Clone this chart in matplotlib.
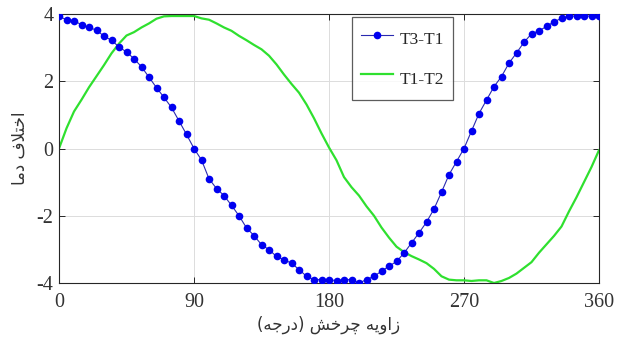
import numpy as np
import matplotlib
matplotlib.use("Agg")
import matplotlib.pyplot as plt

plt.rcParams['axes.unicode_minus'] = False

# ---- data ----
angles = list(range(0, 361, 5))

t3_t1 = [3.93, 3.83, 3.80, 3.68, 3.60, 3.52, 3.34, 3.22, 3.02, 2.87,
         2.67, 2.43, 2.12, 1.81, 1.52, 1.22, 0.82, 0.42, 0.00, -0.34,
         -0.90, -1.19, -1.40, -1.69, -2.00, -2.36, -2.59, -2.86, -3.01, -3.21,
         -3.31, -3.41, -3.60, -3.80, -3.90, -3.90, -3.90, -3.93, -3.90, -3.90,
         -4.00, -3.90, -3.80, -3.65, -3.50, -3.36, -3.11, -2.81, -2.51, -2.19,
         -1.80, -1.30, -0.78, -0.39, 0.00, 0.52, 1.04, 1.44, 1.84, 2.14,
         2.54, 2.84, 3.16, 3.41, 3.50, 3.63, 3.77, 3.87, 3.94, 3.94,
         3.94, 3.94, 3.94]

t1_t2 = [0.00, 0.60, 1.10, 1.45, 1.82, 2.15, 2.48, 2.83, 3.12, 3.36,
         3.46, 3.60, 3.72, 3.86, 3.93, 3.94, 3.94, 3.94, 3.94, 3.87,
         3.83, 3.72, 3.60, 3.50, 3.35, 3.22, 3.08, 2.95, 2.76, 2.50,
         2.20, 1.92, 1.66, 1.31, 0.90, 0.45, 0.03, -0.35, -0.85, -1.15,
         -1.40, -1.72, -2.00, -2.35, -2.65, -2.92, -3.08, -3.20, -3.30, -3.41,
         -3.58, -3.80, -3.90, -3.92, -3.92, -3.94, -3.92, -3.92, -4.00, -3.94,
         -3.85, -3.72, -3.55, -3.38, -3.10, -2.85, -2.60, -2.32, -1.87, -1.45,
         -1.00, -0.55, -0.05]

series_labels = ["T3-T1", "T1-T2"]
xticks = [0, 90, 180, 270, 360]
yticks = [-4, -2, 0, 2, 4]
# Persian labels (presentation forms, visual order)
xlabel_text = "(\uFEEA\uFE9F\uFEAD\uFEA9) \uFEB6\uFEA7\uFEAE\uFB7C \uFEEA\uFBFE\uFEED\uFE8D\uFEAF"   # زاویه چرخش (درجه)
ylabel_text = "\uFE8E\uFEE3\uFEA9 \uFED1\uFEFC\uFE98\uFEA7\uFE8D"   # اختلاف دما

# ---- figure ----
fig = plt.figure(figsize=(6.19, 3.43), dpi=100)
ax = fig.add_axes([59/619, 1-283/343, 540/619, 269/343])

ax.plot(angles, t3_t1, '-o', color='#2a2ab0', lw=0.8, marker='o',
        markersize=5.5, markerfacecolor='#0000f0', markeredgewidth=0,
        label=series_labels[0], zorder=3)
ax.plot(angles, t1_t2, '-', color='#2fe02f', lw=1.6, label=series_labels[1], zorder=2)

ax.set_xlim(0, 360)
ax.set_ylim(-4, 4)
ax.set_xticks(xticks)
ax.set_yticks(yticks)
ax.grid(True, color='#dcdcdc', lw=0.7)
ax.set_axisbelow(True)

tick_font = ['Liberation Serif', 'DejaVu Serif']
ax.tick_params(direction='in', length=4, width=0.7, top=True, right=True,
               colors='#262626', labelsize=14.5)
ax.tick_params(axis='x', pad=7)
ax.tick_params(axis='y', pad=4)
for lab in ax.get_xticklabels() + ax.get_yticklabels():
    lab.set_family(tick_font)
    lab.set_color('#333333')
for sp in ax.spines.values():
    sp.set_color('#262626')
    sp.set_linewidth(0.8)

ax.set_xlabel(xlabel_text, family=['DejaVu Sans'], fontsize=12, color='#333333', labelpad=3)
ax.set_ylabel(ylabel_text, family=['DejaVu Sans'], fontsize=12, color='#333333', labelpad=6)

leg = ax.legend(loc='upper left', bbox_to_anchor=(352/619, 1-17/343),
                bbox_transform=fig.transFigure, frameon=True, fancybox=False,
                prop={'family': tick_font, 'size': 12.5}, handlelength=1.85,
                handletextpad=0.4, borderpad=0.5, handleheight=1.9,
                labelspacing=0.8, borderaxespad=0)
leg.get_frame().set_edgecolor('#333333')
leg.get_frame().set_linewidth(0.9)
for t in leg.get_texts():
    t.set_color('#262626')

fig.savefig('out.png', dpi=100)
